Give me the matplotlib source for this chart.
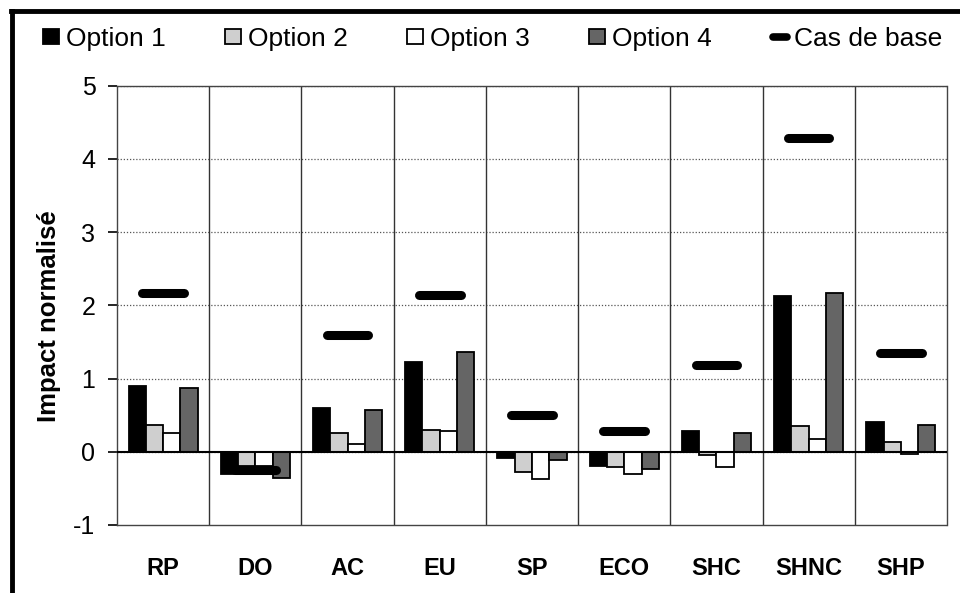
import matplotlib
matplotlib.use("Agg")
import matplotlib.pyplot as plt
import numpy as np
from matplotlib.patches import Rectangle
from matplotlib.lines import Line2D

plt.rcParams['font.family'] = ['Liberation Sans', 'DejaVu Sans']

categories = ["RP", "DO", "AC", "EU", "SP", "ECO", "SHC", "SHNC", "SHP"]
option1 = [0.90, -0.31, 0.60, 1.22, -0.09, -0.19, 0.29, 2.13, 0.40]
option2 = [0.37, -0.19, 0.25, 0.30, -0.28, -0.21, -0.05, 0.35, 0.14]
option3 = [0.25, -0.19, 0.10, 0.28, -0.37, -0.30, -0.21, 0.17, -0.03]
option4 = [0.87, -0.36, 0.57, 1.36, -0.11, -0.23, 0.25, 2.17, 0.37]
cas_de_base = [2.17, -0.25, 1.59, 2.14, 0.50, 0.28, 1.18, 4.28, 1.35]

series_labels = ["Option 1", "Option 2", "Option 3", "Option 4"]
base_label = "Cas de base"
series_colors = ["#000000", "#cfcfcf", "#ffffff", "#656565"]
y_ticks = [-1, 0, 1, 2, 3, 4, 5]

W, H = 960, 593
fig = plt.figure(figsize=(W / 100, H / 100), dpi=100)


def fx(px):
    return px / W


def fy(py):
    return 1 - py / H


ax = fig.add_axes([fx(117), fy(525), fx(947) - fx(117), fy(85.7) - fy(525)])

x = np.arange(len(categories))
bar_w = 0.1875
series = [option1, option2, option3, option4]
for i, (vals, lab, col) in enumerate(zip(series, series_labels, series_colors)):
    ax.bar(x + (i - 1.5) * bar_w, vals, width=bar_w, color=col,
           edgecolor="black", linewidth=1.3, label=lab, zorder=3)

# baseline markers
ax.hlines(cas_de_base, x - 0.225, x + 0.225, colors="black", linewidth=6.5,
          capstyle="round", zorder=4)

ax.set_xlim(-0.5, len(categories) - 0.5)
ax.set_ylim(-1, 5)

# horizontal dotted grid
for y in y_ticks[1:]:
    ax.axhline(y, color="#555555", linestyle=(0, (1, 1.5)), linewidth=0.9, zorder=1)
# vertical category separators
for xv in np.arange(0.5, len(categories) - 0.5, 1):
    ax.axvline(xv, color="#333333", linewidth=1.0, zorder=1)
ax.axhline(0, color="black", linewidth=1.5, zorder=5)

for side in ["top", "right", "bottom", "left"]:
    ax.spines[side].set_color("#444444")
    ax.spines[side].set_linewidth(1.0)
    ax.spines[side].set_linestyle((0, (1, 1)))
ax.spines["left"].set_linestyle("-")

ax.set_yticks(y_ticks)
ax.set_yticklabels([str(v) for v in y_ticks], fontsize=18)
ax.tick_params(axis="y", direction="out", length=6.5, width=1.2, pad=9)
ax.set_xticks(x)
ax.set_xticklabels(categories, fontsize=17, fontweight="bold")
ax.tick_params(axis="x", length=0, pad=23)

fig.text(fx(49), fy(316), "Impact normalisé", rotation=90, fontsize=18.5,
         fontweight="bold", ha="center", va="center")

# legend across the top
leg_y = 36.5
sq = 15.5
square_x = [43, 225, 407, 589]
for sx, col, lab in zip(square_x, series_colors, series_labels):
    fig.add_artist(Rectangle((fx(sx), fy(leg_y + sq / 2)), fx(sq), fy(0) - fy(sq),
                             transform=fig.transFigure, facecolor=col,
                             edgecolor="black", linewidth=1.3))
    fig.text(fx(sx + sq + 7), fy(leg_y), lab, fontsize=19, ha="left", va="center_baseline")
fig.add_artist(Line2D([fx(773), fx(787)], [fy(leg_y), fy(leg_y)], transform=fig.transFigure,
                      color="black", linewidth=5.5, solid_capstyle="round"))
fig.text(fx(794), fy(leg_y), base_label, fontsize=19, ha="left", va="center_baseline")

# outer frame
fig.add_artist(Line2D([fx(12), fx(12)], [0, fy(11)], transform=fig.transFigure,
                      color="black", linewidth=3.5))
fig.add_artist(Line2D([fx(11), 1], [fy(11), fy(11)], transform=fig.transFigure,
                      color="black", linewidth=3.5))

fig.savefig("out.png", dpi=100)
